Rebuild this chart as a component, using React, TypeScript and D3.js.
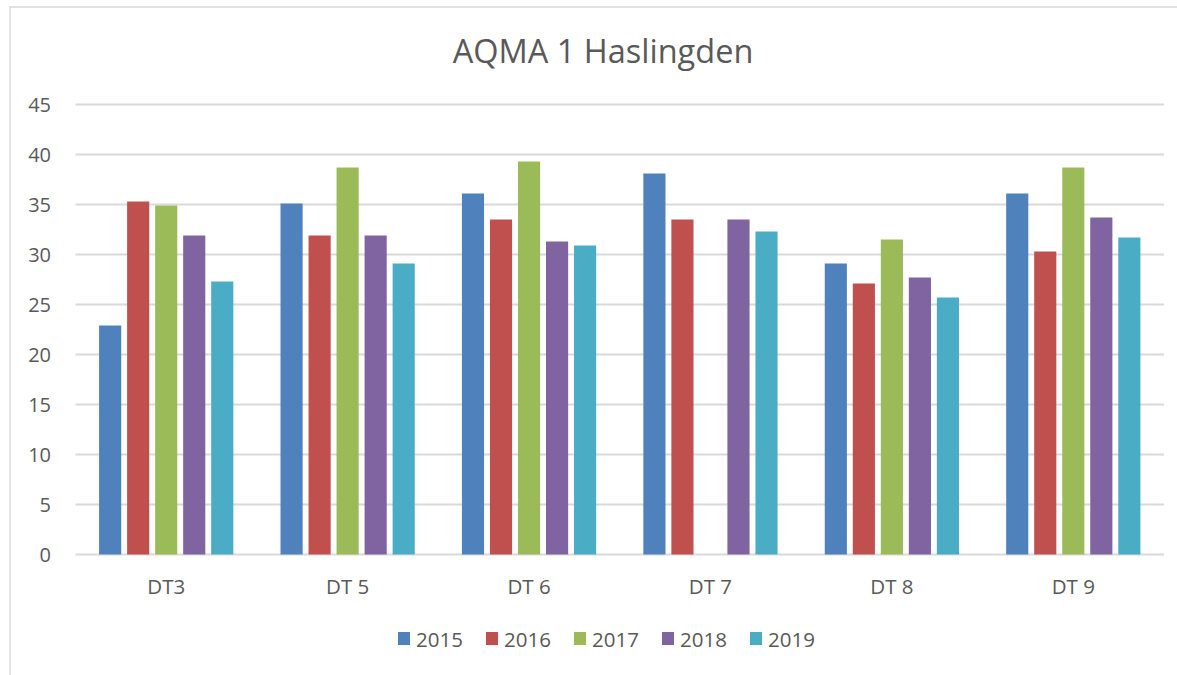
import * as d3 from 'd3';

const categories = ['DT3', 'DT 5', 'DT 6', 'DT 7', 'DT 8', 'DT 9'];
const years = ['2015', '2016', '2017', '2018', '2019'];
const colors = ['#4F81BD', '#C0504D', '#9BBB59', '#8064A2', '#4BACC6'];

// one array per year, in category order; null = no reading
const values2015 = [22.9, 35.1, 36.1, 38.1, 29.1, 36.1];
const values2016 = [35.3, 31.9, 33.5, 33.5, 27.1, 30.3];
const values2017 = [34.9, 38.7, 39.3, null, 31.5, 38.7];
const values2018 = [31.9, 31.9, 31.3, 33.5, 27.7, 33.7];
const values2019 = [27.3, 29.1, 30.9, 32.3, 25.7, 31.7];
const yTicks = [0, 5, 10, 15, 20, 25, 30, 35, 40, 45];

const series = [values2015, values2016, values2017, values2018, values2019];

const width = 1177;
const height = 675;
const font = "'Open Sans', 'Noto Sans', sans-serif";
const textColor = '#595959';
const gridColor = '#D9D9D9';

const App = () => {
  const plot = { left: 75.5, right: 1164, top: 104.5, bottom: 554.5 };
  const center = 603;

  const x0 = d3.scaleBand<string>()
    .domain(categories)
    .range([plot.left, plot.right])
    .paddingInner(0.26)
    .paddingOuter(0.13);

  const x1 = d3.scaleBand<string>()
    .domain(years)
    .range([0, x0.bandwidth()])
    .paddingInner(0.21)
    .paddingOuter(0);

  const y = d3.scaleLinear().domain([0, 45]).range([plot.bottom, plot.top]);

  // legend: fixed step per item, centred under the chart
  const legendStep = 88;
  const legendStart = center + 3 - (legendStep * years.length - 24) / 2;

  return (
    <svg
      width={width}
      height={height}
      style={{ position: 'absolute', left: 0, top: 0, background: '#fff' }}
      fontFamily={font}
    >
      <rect x={10} y={7} width={1200} height={700} fill="#fff" stroke={gridColor} strokeWidth={1.5} />

      <text x={center} y={63} textAnchor="middle" fontSize={32.5} fill={textColor}>
        AQMA 1 Haslingden
      </text>

      {yTicks.map(t => (
        <g key={t}>
          <line x1={plot.left} x2={plot.right} y1={y(t)} y2={y(t)} stroke={gridColor} strokeWidth={2} />
          <text x={51} y={y(t)} dy="0.36em" textAnchor="end" fontSize={20} fill={textColor}>
            {t}
          </text>
        </g>
      ))}

      {categories.map((c, ci) => (
        <g key={c} transform={`translate(${x0(c)},0)`}>
          {years.map((yr, si) => {
            const v = series[si][ci];
            if (v == null) return null;
            return (
              <rect
                key={yr}
                x={x1(yr)}
                y={y(v)}
                width={x1.bandwidth()}
                height={y(0) - y(v)}
                fill={colors[si]}
              />
            );
          })}
          <text x={x0.bandwidth() / 2} y={594} textAnchor="middle" fontSize={20.5} fill={textColor}>
            {c}
          </text>
        </g>
      ))}

      {years.map((yr, i) => (
        <g key={yr} transform={`translate(${legendStart + i * legendStep},0)`}>
          <rect x={0} y={632} width={12} height={13} fill={colors[i]} />
          <text x={18} y={647} fontSize={20.5} fill={textColor}>
            {yr}
          </text>
        </g>
      ))}
    </svg>
  );
};

export default App;
